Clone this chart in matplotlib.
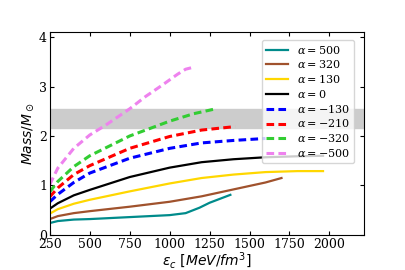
import matplotlib
matplotlib.use("Agg")
import matplotlib.pyplot as plt
from matplotlib.font_manager import FontProperties

# data
x_500 = [250, 300, 400, 500, 750, 1000, 1100, 1187, 1250, 1380]
m_500 = [0.24, 0.28, 0.31, 0.32, 0.36, 0.40, 0.44, 0.55, 0.65, 0.81]

x_320 = [250, 300, 400, 500, 750, 1000, 1200, 1400, 1600, 1700]
m_320 = [0.32, 0.38, 0.44, 0.48, 0.57, 0.67, 0.78, 0.92, 1.06, 1.15]

x_130 = [250, 300, 400, 500, 750, 1000, 1200, 1400, 1600, 1800, 1960]
m_130 = [0.43, 0.52, 0.63, 0.71, 0.88, 1.04, 1.15, 1.22, 1.27, 1.29, 1.29]

x_0 = [250, 300, 400, 500, 750, 1000, 1200, 1400, 1600, 1800, 1960]
m_0 = [0.53, 0.64, 0.80, 0.91, 1.17, 1.36, 1.47, 1.53, 1.57, 1.59, 1.60]

x_m130 = [250, 300, 400, 500, 750, 1000, 1200, 1400, 1600]
m_m130 = [0.67, 0.82, 1.06, 1.25, 1.55, 1.75, 1.86, 1.91, 1.95]

x_m210 = [250, 300, 400, 500, 750, 1000, 1200, 1410]
m_m210 = [0.77, 0.95, 1.22, 1.40, 1.75, 1.99, 2.12, 2.19]

x_m320 = [250, 300, 400, 500, 750, 1000, 1150, 1275]
m_m320 = [0.87, 1.08, 1.38, 1.60, 2.00, 2.30, 2.45, 2.54]

x_m500 = [250, 300, 400, 500, 600, 750, 850, 950, 1050, 1100, 1160]
m_m500 = [1.02, 1.35, 1.75, 2.02, 2.22, 2.55, 2.80, 3.02, 3.25, 3.35, 3.40]

band = [2.17, 2.55]

labels = [r"$\alpha=500$", r"$\alpha=320$", r"$\alpha=130$", r"$\alpha=0$",
          r"$\alpha=-130$", r"$\alpha=-210$", r"$\alpha=-320$", r"$\alpha=-500$"]
xticks = [250, 500, 750, 1000, 1250, 1500, 1750, 2000]
yticks = [0, 1, 2, 3, 4]

fig = plt.figure(figsize=(4.05, 2.7), dpi=100)
ax = fig.add_axes([0.123, 0.130, 0.776, 0.751])

ax.axhspan(band[0], band[1], color="0.8", zorder=1)

solid = [(x_500, m_500, "darkcyan"), (x_320, m_320, "sienna"),
         (x_130, m_130, "gold"), (x_0, m_0, "black")]
dashed = [(x_m130, m_m130, "blue"), (x_m210, m_m210, "red"),
          (x_m320, m_m320, "limegreen"), (x_m500, m_m500, "violet")]

i = 0
for xs, ms, c in solid:
    ax.plot(xs, ms, color=c, lw=1.6, label=labels[i], zorder=2)
    i += 1
for xs, ms, c in dashed:
    ax.plot(xs, ms, color=c, lw=2.2, ls=(0, (2.5, 1.4)), label=labels[i], zorder=2)
    i += 1

ax.set_xlim(250, 2217)
ax.set_ylim(0, 4.1)
ax.set_xticks(xticks)
ax.set_yticks(yticks)
ax.tick_params(direction="in", top=True, right=True, labelsize=9, length=3, pad=2)
for lab in ax.get_xticklabels() + ax.get_yticklabels():
    lab.set_family("DejaVu Serif")

ax.set_xlabel(r"$\epsilon_c$ [$MeV/fm^3$]", fontsize=10, labelpad=0)
ax.set_ylabel(r"$Mass/M_\odot$", fontsize=10, labelpad=2)

leg_font = FontProperties(family="DejaVu Serif", size=8, math_fontfamily="dejavuserif")
ax.legend(loc="upper right", prop=leg_font, handlelength=2.0, labelspacing=0.25,
          borderpad=0.35, handletextpad=0.8, bbox_to_anchor=(0.985, 0.99))

fig.savefig("out.png", dpi=100)
